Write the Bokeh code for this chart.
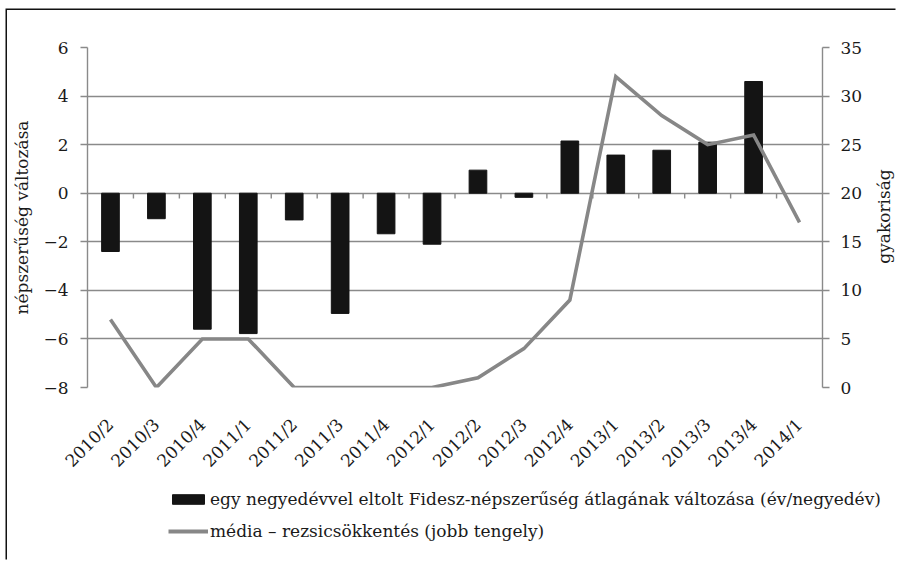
import math
from bokeh.plotting import figure
from bokeh.layouts import column, row
from bokeh.models import (FactorRange, Range1d, LinearAxis, FixedTicker, Legend,
                          LegendItem, Label)
from bokeh.embed import file_html
from bokeh.resources import INLINE

quarters = ["2010/2", "2010/3", "2010/4", "2011/1", "2011/2", "2011/3", "2011/4",
            "2012/1", "2012/2", "2012/3", "2012/4", "2013/1", "2013/2", "2013/3",
            "2013/4", "2014/1"]
popularity_change = [-2.4, -1.05, -5.6, -5.78, -1.1, -4.95, -1.67, -2.1, 0.95,
                     -0.17, 2.15, 1.57, 1.77, 2.1, 4.6, float("nan")]
media_freq = [7, 0, 5, 5, 0, 0, 0, 0, 1, 4, 9, 32, 28, 25, 26, 17]
left_ticks = [-8, -6, -4, -2, 0, 2, 4, 6]
right_ticks = [0, 5, 10, 15, 20, 25, 30, 35]

bar_label = "egy negyedévvel eltolt Fidesz-népszerűség átlagának változása (év/negyedév)"
line_label = "média – rezsicsökkentés (jobb tengely)"
left_title = "népszerűség változása"
right_title = "gyakoriság"

FONT = "DejaVu Serif"
FS = "17px"
GRAY = "#8a8a8a"
LINE = "#878787"
BAR = "#141414"
TXT = "#1a1a1a"

p = figure(width=858, height=470, output_backend="svg", toolbar_location=None,
           x_range=FactorRange(factors=quarters, range_padding=0),
           y_range=Range1d(left_ticks[0], left_ticks[-1]),
           min_border_left=80, min_border_right=43, min_border_top=37,
           min_border_bottom=93)
p.extra_y_ranges = {"right": Range1d(right_ticks[0], right_ticks[-1])}
p.outline_line_color = None
p.background_fill_color = "white"
p.border_fill_color = "white"

# grid
p.xgrid.grid_line_color = None
p.ygrid.ticker = FixedTicker(ticks=left_ticks)
p.ygrid.grid_line_color = GRAY
p.ygrid.grid_line_width = 1.4

# bars
bars = p.vbar(x=quarters, top=popularity_change, bottom=0, width=0.385,
              fill_color=BAR, line_color=BAR)

# category boundary ticks on zero line
bounds = list(range(1, len(quarters)))
p.segment(x0=bounds, y0=[0] * len(bounds), x1=bounds, y1=[-0.22] * len(bounds),
          line_color=GRAY, line_width=1.4)

# line on right axis
ln = p.line(x=quarters, y=media_freq, y_range_name="right", line_color=LINE,
            line_width=3.6, line_join="miter")

# left axis
ya = p.yaxis[0]
ya.ticker = FixedTicker(ticks=left_ticks)
ya.axis_line_color = GRAY
ya.axis_line_width = 1.4
ya.major_tick_line_color = GRAY
ya.major_tick_line_width = 1.4
ya.major_tick_out = 7
ya.major_tick_in = 0
ya.minor_tick_line_color = None
ya.major_label_standoff = 12
ya.major_label_text_font = FONT
ya.major_label_text_font_size = FS
ya.major_label_text_color = TXT
ya.axis_label = left_title
ya.axis_label_text_font = FONT
ya.axis_label_text_font_size = FS
ya.axis_label_text_font_style = "normal"
ya.axis_label_text_color = TXT
ya.axis_label_standoff = 8

# right axis
ra = LinearAxis(y_range_name="right", ticker=FixedTicker(ticks=right_ticks))
ra.axis_line_color = GRAY
ra.axis_line_width = 1.4
ra.major_tick_line_color = GRAY
ra.major_tick_line_width = 1.4
ra.major_tick_out = 7
ra.major_tick_in = 0
ra.minor_tick_line_color = None
ra.major_label_standoff = 11
ra.major_label_text_font = FONT
ra.major_label_text_font_size = FS
ra.major_label_text_color = TXT
p.add_layout(ra, "right")

# x axis
xa = p.xaxis[0]
xa.axis_line_color = None
xa.major_tick_line_color = None
xa.minor_tick_line_color = None
xa.major_label_orientation = math.pi / 4
xa.major_label_standoff = 28
xa.major_label_text_font = FONT
xa.major_label_text_font_size = FS
xa.major_label_text_color = TXT

# right-hand strip carrying the secondary axis title (reads bottom to top)
r = figure(width=32, height=470, output_backend="svg", toolbar_location=None,
           x_range=Range1d(0, 1), y_range=Range1d(0, 1),
           min_border_left=0, min_border_right=0, min_border_top=0,
           min_border_bottom=0, x_axis_type=None, y_axis_type=None)
r.outline_line_color = None
r.xgrid.grid_line_color = None
r.ygrid.grid_line_color = None
r.border_fill_color = "white"
r.add_layout(Label(x=18, y=264, x_units="screen", y_units="screen", text=right_title,
                   angle=math.pi / 2, text_align="center", text_baseline="middle",
                   text_font=FONT, text_font_size=FS, text_color=TXT))

# legend panel below the chart
q = figure(width=890, height=81, output_backend="svg", toolbar_location=None,
           x_range=FactorRange(factors=quarters), y_range=Range1d(100, 101),
           min_border_left=0, min_border_right=0, min_border_top=0,
           min_border_bottom=0, x_axis_type=None, y_axis_type=None)
q.outline_line_color = None
q.xgrid.grid_line_color = None
q.ygrid.grid_line_color = None
q.border_fill_color = "white"
for fig in (p, q, r):
    if "frame_align" in fig.properties():
        fig.frame_align = False
bar_proxy = q.vbar(x=quarters, top=popularity_change, width=0.385,
                   fill_color=BAR, line_color=BAR)
line_proxy = q.line(x=quarters, y=media_freq, line_color=LINE, line_width=4)
legend = Legend(items=[LegendItem(label=bar_label, renderers=[bar_proxy]),
                       LegendItem(label=line_label, renderers=[line_proxy])],
                location=(161, 20), orientation="vertical",
                border_line_color=None, background_fill_alpha=0,
                padding=0, margin=0, spacing=12, glyph_width=40, glyph_height=12,
                label_height=20, label_standoff=2, label_text_font=FONT,
                label_text_font_size=FS, label_text_color=TXT)
q.add_layout(legend)

layout = column(row(p, r, spacing=0), q, spacing=0)
layout.margin = (10, 0, 0, 7)
layout.styles = {"box-shadow": "-1.5px -1.5px 0 0 #111"}

open("out.html", "w").write(file_html(layout, INLINE))
